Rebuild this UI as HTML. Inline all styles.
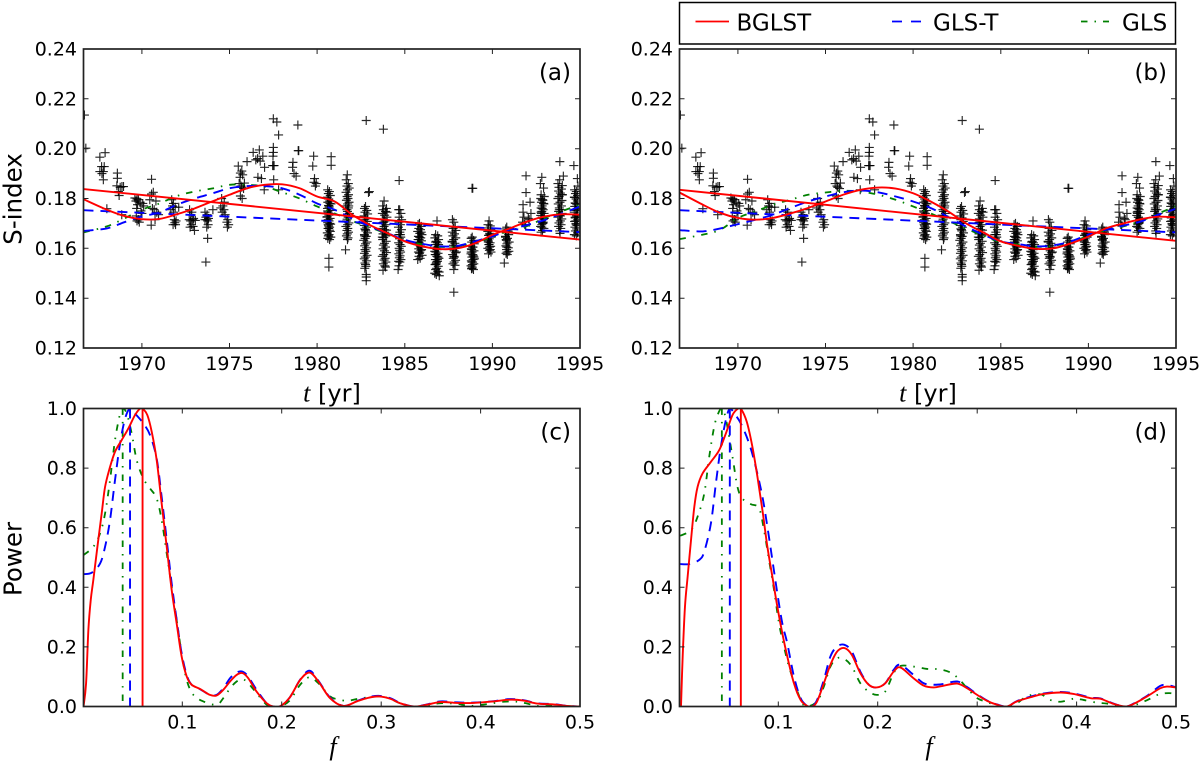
<!DOCTYPE html>
<html lang="en">
<head>
<meta charset="utf-8">
<title>BGLST, GLS-T and GLS comparison</title>
<style>
html,body{margin:0;padding:0;background:#fff;}
svg{display:block;font-family:"DejaVu Sans","Liberation Sans",sans-serif;}
</style>
</head>
<body>
<svg id="figure" xmlns="http://www.w3.org/2000/svg" width="1200" height="765" viewBox="0 0 1200 765">
<rect x="0" y="0" width="1200" height="765" fill="#fff"/>
<defs>
<clipPath id="clip-a"><rect x="83.5" y="49" width="496.5" height="299"/></clipPath>
<clipPath id="clip-b"><rect x="679.5" y="49" width="496.5" height="299"/></clipPath>
<clipPath id="clip-c"><rect x="83.5" y="408.5" width="496.5" height="298"/></clipPath>
<clipPath id="clip-d"><rect x="679.5" y="408.5" width="496.5" height="298"/></clipPath>
</defs>
<g>
<rect x="679.5" y="2.5" width="496" height="41.5" fill="#fff" stroke="#000" stroke-width="1.5"/>
<line x1="695.5" y1="21.5" x2="729" y2="21.5" stroke="#ff0000" stroke-width="1.8"/>
<text x="736.5" y="30.5" font-size="23">BGLST</text>
<line x1="892" y1="21.5" x2="922" y2="21.5" stroke="#0000ff" stroke-width="1.8" stroke-dasharray="10 9"/>
<text x="933" y="30.5" font-size="23">GLS-T</text>
<line x1="1081" y1="21.5" x2="1109" y2="21.5" stroke="#008000" stroke-width="1.8" stroke-dasharray="6.5 7 1.5 7"/>
<text x="1122" y="30.5" font-size="23">GLS</text>
</g>
<text font-size="24.5" text-anchor="middle" transform="translate(21.5,199) rotate(-90)">S-index</text>
<text font-size="24.5" text-anchor="middle" transform="translate(21.5,559) rotate(-90)">Power</text>
<text x="332" y="401.5" font-size="24" text-anchor="middle"><tspan font-family="'Liberation Serif',serif" font-style="italic" font-size="26">t</tspan> [yr]</text>
<text x="928" y="401.5" font-size="24" text-anchor="middle"><tspan font-family="'Liberation Serif',serif" font-style="italic" font-size="26">t</tspan> [yr]</text>
<text x="333" y="755" font-size="26" text-anchor="middle" font-family="'Liberation Serif',serif" font-style="italic">f</text>
<text x="929" y="755" font-size="26" text-anchor="middle" font-family="'Liberation Serif',serif" font-style="italic">f</text>
</svg>
<script>
// ---- Tick labels ----
const yearTicks = [1970, 1975, 1980, 1985, 1990, 1995];
const sIndexTicks = [0.12, 0.14, 0.16, 0.18, 0.20, 0.22, 0.24];
const freqTicks = [0.1, 0.2, 0.3, 0.4, 0.5];
const powerTicks = [0.0, 0.2, 0.4, 0.6, 0.8, 1.0];

// ---- Observations (shared by panels a and b) ----
const obsYears = [
1966.72,1966.8,
1967.6,1967.9,1967.7,1967.85,1967.6,1967.8,1967.72,1967.8,1968.0,
1968.6,1968.6,1968.57,1968.86,1968.76,1968.95,1968.66,1968.7,1968.85,
1969.6,1969.72,1969.8,1969.66,1969.9,1970.05,1969.75,1970.1,1969.7,1969.95,1970.0,1969.68,1969.8,1969.72,1969.85,
1970.55,1970.65,1970.55,1970.45,1970.6,1970.7,1970.8,1970.95,1970.75,1970.53,1970.85,
1971.7,1971.8,1971.75,1971.9,1971.65,1972.1,1971.8,1971.85,1971.95,1971.88,1971.92,1971.78,
1972.72,1972.85,1972.8,1972.95,1972.7,1972.9,1972.78,1973.05,1972.82,1972.92,1972.75,1973.0,
1973.6,1973.72,1973.65,1973.8,1974.05,1973.7,1973.75,1973.6,1973.78,1973.7,1973.75,1973.65,
1974.55,1974.7,1974.62,1974.5,1974.68,1974.58,1974.75,1974.9,1974.85,1974.95,1974.88,
1975.5,1975.7,1975.62,1975.75,1975.6,1975.55,1976.0,1975.85,1975.65,1975.7,1975.8,1975.62,1975.72,
1976.7,1976.35,1976.5,1976.9,1976.6,1976.75,1977.0,1976.62,1976.82,1976.98,
1977.5,1977.7,1977.8,1977.5,1977.5,1977.48,1977.52,1977.46,1977.54,1977.52,1977.8,
1978.9,1978.95,1978.92,1978.62,1978.6,1978.68,1978.8,
1979.8,1979.75,1979.85,1979.95,1979.9,1979.82,
1980.8,1980.8,
1980.6,1980.7,1980.64,1980.75,1980.58,1980.66,1980.72,1980.61,1980.79,1980.65,1980.68,1980.59,1980.76,1980.62,1980.7,1980.67,1980.57,1980.74,1980.63,1980.68,1980.6,1980.77,1980.65,1980.71,1980.62,1980.7,1980.75,1980.58,1980.68,1980.64,1980.78,1980.61,1980.71,1980.6,1980.68,1980.73,1980.63,1980.56,1980.66,1980.72,1980.67,1980.67,
1981.72,1981.66,1981.78,1981.7,1981.83,1981.73,1981.65,1981.79,1981.71,1981.76,1981.67,1981.82,1981.74,1981.63,1981.78,1981.7,1981.73,1981.84,1981.65,1981.77,1981.71,1981.68,1981.81,1981.74,1981.64,1981.75,1981.7,1981.79,1981.72,1981.67,1981.76,1981.73,1981.62,1981.8,1981.75,
1982.76,1982.7,1982.83,1982.73,1982.88,1982.68,1982.79,1982.72,1982.86,1982.75,1982.69,1982.81,1982.72,1982.78,1982.87,1982.7,1982.8,1982.74,1982.66,1982.84,1982.76,1982.71,1982.82,1982.73,1982.78,1982.7,1982.85,1982.75,1982.69,1982.81,1982.73,1982.76,1982.78,1982.72,1982.76,1982.71,1982.8,1982.8,1982.8,1982.8,1982.93,1982.98,
1983.82,1983.74,1983.95,1983.78,1983.9,1983.72,1983.85,1983.98,1983.78,1983.88,1983.75,1983.92,1983.82,1983.72,1983.96,1983.86,1983.76,1983.92,1983.8,1983.74,1983.94,1983.84,1983.78,1983.9,1983.76,1983.84,1983.96,1983.8,1983.72,1983.88,1983.82,1983.92,1983.78,1983.86,1983.76,1983.9,1983.8,1983.85,1983.99,1983.93,1983.78,1983.72,
1984.71,1984.65,1984.78,1984.68,1984.82,1984.67,1984.75,1984.64,1984.81,1984.72,1984.66,1984.77,1984.7,1984.83,1984.65,1984.73,1984.8,1984.68,1984.71,1984.76,1984.66,1984.73,1984.69,1984.78,1984.65,1984.72,1984.67,1984.62,1984.75,1984.68,
1985.84,1985.76,1985.94,1985.8,1985.9,1985.74,1985.86,1985.98,1985.78,1985.91,1985.76,1985.95,1985.82,1985.74,1985.88,1985.96,1985.8,1985.92,1985.78,1985.84,1985.99,1985.81,1985.88,1985.74,1985.94,1985.84,1985.78,1985.9,1985.86,1985.82,1985.76,1985.96,
1986.84,1986.76,1986.88,1986.72,1986.93,1986.8,1986.86,1986.74,1986.92,1986.78,1986.85,1986.71,1986.9,1986.77,1986.83,1986.95,1986.75,1986.87,1986.79,1986.73,1986.91,1986.82,1986.76,1986.88,1986.71,1986.8,1986.93,1986.84,1986.74,1986.86,1986.78,1986.89,1986.81,1986.76,1986.85,1986.96,1986.78,1986.97,
1987.8,1987.72,1987.88,1987.76,1987.92,1987.71,1987.84,1987.75,1987.91,1987.79,1987.7,1987.86,1987.78,1987.94,1987.74,1987.82,1987.89,1987.73,1987.8,1987.77,1987.9,1987.82,1987.75,1987.87,1987.71,1987.79,1987.95,1987.83,1987.8,1987.8,
1988.85,1988.79,1988.93,1988.82,1988.97,1988.77,1988.89,1988.8,1988.95,1988.84,1988.78,1988.91,1988.83,1988.98,1988.8,1988.87,1988.94,1988.78,1988.85,1988.81,1988.92,1988.88,1988.79,1988.95,1988.83,1988.86,1988.9,1988.82,1988.84,1988.88,1988.88,1988.84,
1989.81,1989.75,1989.88,1989.77,1989.91,1989.74,1989.85,1989.78,1989.93,1989.82,1989.76,1989.87,1989.8,1989.9,1989.74,1989.83,1989.92,1989.78,1989.86,1989.72,1989.81,1989.88,1989.77,1989.84,
1990.82,1990.76,1990.89,1990.79,1990.93,1990.75,1990.86,1990.8,1990.96,1990.83,1990.77,1990.91,1990.81,1990.94,1990.78,1990.85,1990.75,1990.88,1990.82,1990.92,1990.79,1990.84,1990.68,
1991.92,1991.92,1992.15,1991.75,1991.75,1992.2,1991.8,1991.9,1992.1,1991.72,1992.05,1991.85,
1992.82,1992.74,1992.92,1992.78,1992.96,1992.76,1992.88,1992.8,1992.94,1992.84,1992.78,1992.9,1992.82,1992.95,1992.76,1992.86,1992.92,1992.8,1992.88,1992.82,1992.75,1992.94,1992.86,1992.78,1992.92,1992.84,1992.8,1992.96,1992.88,1992.78,1992.84,1992.9,1992.82,1992.85,
1993.85,1994.05,1993.84,1993.74,1993.99,1993.8,1993.94,1993.78,1993.88,1994.0,1993.81,1993.74,1993.97,1993.86,1993.76,1993.94,1993.82,1993.91,1993.78,1993.98,1993.84,1993.74,1993.96,1993.88,1993.8,1993.92,1993.78,1993.9,1993.84,1993.86,1993.96,1993.82,1993.88,
1994.65,1994.85,1994.88,1994.69,1994.79,1994.74,1994.86,1994.68,1994.78,1994.85,1994.72,1994.82,1994.7,1994.88,1994.76,1994.67,1994.84,1994.8,1994.73,1994.87,1994.69,1994.77,1994.83,1994.71,1994.81,1994.74,1994.86,1994.68,1994.79,1994.75,1994.84,1994.72,1994.78,1994.7,1994.82,1994.76
];
const obsSIndex = [
.2135,.2002,
.1966,.1984,.1928,.1928,.1908,.1908,.1900,.1875,.1759,
.1902,.1881,.1851,.1848,.1845,.1848,.1828,.1812,.1735,
.1802,.1798,.1795,.179,.1785,.178,.1775,.177,.176,.175,.174,.173,.1715,.171,.1705,
.1877,.1825,.1818,.1795,.176,.1755,.179,.1735,.1715,.1693,.1745,
.1795,.178,.177,.1765,.1755,.1765,.1745,.1715,.171,.1703,.1695,.1695,
.1755,.1745,.1735,.172,.1715,.1715,.171,.1712,.1695,.1688,.1685,.1672,
.1745,.1735,.1725,.172,.1755,.1715,.171,.1715,.1695,.1685,.1640,.1545,
.18,.1785,.177,.1762,.1755,.1745,.1735,.1715,.1705,.1695,.1685,
.193,.191,.1902,.1895,.1885,.186,.1948,.1862,.185,.1845,.184,.181,.18,
.1995,.1985,.1955,.197,.196,.195,.1925,.1885,.188,.1835,
.212,.2107,.2055,.2005,.1985,.197,.1932,.1932,.1932,.1875,.1835,
.2095,.1992,.1992,.1945,.1925,.19,.189,
.197,.193,.188,.186,.185,.1865,
.1968,.1933,
.1835,.1828,.182,.1812,.1805,.1798,.179,.1785,.1778,.1772,.1765,.176,.1752,.1745,.174,.1733,.1727,.172,.1715,.171,.1703,.1697,.169,.1685,.168,.1673,.1668,.1662,.1655,.165,.1645,.164,.1635,.175,.177,.178,.1695,.1725,.168,.17,.156,.1525,
.1895,.1875,.186,.185,.1842,.1835,.1825,.1815,.1808,.18,.1793,.1785,.1778,.177,.1762,.1755,.1748,.174,.1733,.1725,.1717,.171,.1702,.1695,.1688,.168,.1672,.1665,.1658,.165,.1642,.1635,.1594,.177,.173,
.1768,.176,.1752,.1745,.1738,.173,.1722,.1715,.1708,.17,.1692,.1685,.1678,.167,.1662,.1655,.1648,.164,.1632,.1625,.1618,.161,.1602,.1595,.1588,.158,.1572,.1565,.1558,.155,.1541,.1535,.1528,.152,.1675,.165,.1495,.1485,.147,.2113,.1824,.1828,
.179,.177,.176,.1755,.1748,.174,.1733,.1725,.1718,.171,.1703,.1695,.1688,.168,.1673,.1665,.1658,.165,.1643,.1635,.1628,.162,.1613,.1605,.1598,.159,.1583,.1575,.1568,.156,.1553,.1545,.1538,.153,.1512,.1525,.1705,.1675,.1745,.1655,.2078,.1645,
.1755,.1755,.174,.1725,.1715,.1705,.1695,.1685,.1675,.1665,.1655,.1645,.1638,.163,.1622,.1615,.1608,.16,.1592,.1585,.1578,.157,.1562,.1555,.1548,.1545,.153,.1515,.1655,.1872,
.17,.1695,.1688,.168,.1675,.1668,.166,.1655,.1648,.1642,.1635,.163,.1622,.1618,.161,.1605,.1598,.1592,.1585,.158,.1572,.1568,.156,.1555,.1665,.1645,.1625,.1605,.1585,.1635,.1615,.1595,
.171,.1655,.165,.1642,.1635,.1628,.1622,.1615,.1608,.16,.1595,.1588,.158,.1575,.1568,.156,.1555,.1548,.154,.1535,.1528,.152,.1515,.1508,.150,.1495,.1615,.1595,.1575,.1555,.1535,.1565,.1545,.1625,.1605,.1505,.1585,.149,
.1705,.1715,.1685,.168,.1672,.1665,.1658,.165,.1642,.1635,.1628,.162,.1612,.1605,.1598,.159,.1582,.1575,.1568,.156,.1552,.1545,.1538,.1532,.1625,.1605,.1585,.1565,.1424,.1515,
.1645,.164,.1632,.1625,.1618,.161,.1605,.1598,.159,.1585,.1578,.157,.1565,.1558,.155,.1545,.1538,.153,.1525,.1518,.1515,.1605,.1585,.1565,.1545,.1535,.1555,.1595,.1841,.1841,.1575,.152,
.171,.1695,.169,.1682,.1675,.1668,.166,.1652,.1645,.1638,.163,.1622,.1615,.1608,.16,.1592,.1585,.1578,.1655,.1635,.1615,.1595,.1625,.1605,
.1685,.1678,.167,.1662,.1655,.1648,.164,.1632,.1625,.1618,.161,.1602,.1595,.1588,.158,.1575,.1645,.1625,.1605,.1665,.1635,.1585,.1541,
.1891,.1824,.1785,.1775,.1745,.174,.1725,.169,.1715,.1705,.172,.1695,
.1885,.186,.1842,.1815,.1808,.18,.1793,.1785,.1778,.177,.1762,.1755,.1748,.174,.1732,.1725,.1718,.171,.1702,.1695,.1688,.168,.1672,.1665,.178,.176,.174,.172,.17,.1745,.1725,.1705,.1685,.1795,
.1948,.189,.1875,.186,.1852,.1845,.1838,.183,.1822,.1815,.1808,.18,.1792,.1785,.1778,.177,.1762,.1755,.1748,.174,.1732,.1725,.1718,.171,.1702,.1695,.1688,.168,.167,.166,.1815,.1755,.173,
.1932,.188,.185,.1835,.1828,.182,.1812,.1805,.1798,.179,.1782,.1775,.1768,.176,.1752,.1745,.1738,.173,.1722,.1715,.1708,.17,.1692,.1685,.1678,.167,.1662,.1655,.165,.178,.1755,.1725,.1695,.1805,.1735,.171
];

// ---- Panel (a): fitted curves ----
const fitYearsA = [1966.67,1968,1969,1970,1971,1972,1973,1974,1975,1976,1977,1978,1979,1980,1981,1982,1983,1984,1985,1986,1987,1988,1989,1990,1991,1992,1993,1994,1995];
const bglstFitA = [.1797,.1755,.173,.1717,.1718,.1737,.176,.1788,.1815,.1841,.1855,.1857,.1841,.1808,.1788,.1735,.1694,.1661,.1628,.1608,.1597,.16,.162,.1654,.168,.1708,.1728,.1737,.1735];
const glsTFitA = [.167,.168,.1705,.1728,.1744,.1775,.18,.182,.1841,.185,.185,.1841,.1815,.178,.1755,.172,.1688,.1661,.1634,.1618,.1608,.161,.1628,.1648,.1675,.1694,.1714,.1741,.1768];
const glsFitA = [.1664,.1688,.172,.1755,.178,.181,.1828,.184,.1855,.1855,.1848,.1825,.18,.1768,.174,.171,.1685,.1658,.1632,.1616,.1606,.1608,.1625,.1645,.1672,.169,.1722,.175,.1775];
const trendYears = [1966.67,1995];
const bglstTrendA = [.1838,.1635];
const glsTTrendA = [.1753,.1665];

// ---- Panel (b): fitted curves ----
const fitYearsB = [1966.67,1968,1969,1970,1971,1972,1973,1974,1975,1976,1977,1978,1979,1980,1981,1982,1983,1984,1985,1986,1987,1988,1989,1990,1991,1992,1993,1994,1995];
const bglstFitB = [.1824,.1775,.1742,.1722,.1715,.1722,.174,.1762,.1788,.1815,.1835,.1844,.184,.1821,.1788,.1748,.1701,.1664,.1628,.161,.1598,.16,.162,.1647,.168,.17,.1717,.1727,.1724];
const glsTFitB = [.1673,.1668,.168,.1697,.1715,.1735,.1762,.1788,.1808,.1825,.1832,.1825,.1808,.1788,.1762,.1726,.1688,.1655,.1628,.1617,.1608,.1612,.1628,.1655,.1675,.1691,.1708,.1735,.1759];
const glsFitB = [.1637,.1655,.1675,.1722,.1748,.1775,.1795,.1815,.1824,.1831,.1828,.1815,.1795,.1768,.174,.171,.168,.165,.1625,.1615,.1606,.161,.1625,.165,.1672,.1688,.171,.174,.177];
const bglstTrendB = [.1835,.163];
const glsTTrendB = [.1753,.1664];

// ---- Panel (c): spectra ----
const bglstFreqC = [.0006,.0032,.0055,.0079,.0105,.0146,.0189,.0223,.0273,.0323,.039,.0457,.0524,.0575,.06,.0648,.0692,.0742,.0792,.0843,.0893,.0943,.0993,.1044,.1094,.1178,.1278,.1345,.1412,.148,.1546,.1606,.1663,.1747,.1848,.1915,.198,.208,.2185,.2279,.2369,.2486,.262,.2754,.2856,.2973,.3091,.319,.3326,.346,.3594,.3762,.393,.4131,.43,.4433,.4567,.4735,.487,.5];
const bglstPowerC = [0,.078,.257,.358,.425,.536,.648,.737,.804,.855,.894,.933,.978,1,1,.978,.922,.827,.682,.536,.391,.279,.168,.101,.073,.059,.039,.037,.056,.084,.106,.112,.095,.05,.011,0,0,.03,.089,.114,.084,.028,.002,.017,.028,.034,.026,.011,0,.006,.015,.012,.012,.017,.023,.02,.01,.007,.002,0];
const glsTFreqC = [.0006,.0089,.0173,.0223,.0273,.0323,.0374,.0424,.0474,.0524,.0608,.0675,.0742,.0792,.0843,.0893,.0943,.0993,.1044,.1094,.1178,.1278,.1345,.1412,.148,.1546,.1606,.1663,.1747,.1848,.1915,.198,.208,.2185,.2279,.2369,.2486,.262,.2754,.2856,.2973,.3091,.319,.3326,.346,.3594,.3762,.393,.4131,.43,.4433,.4567,.4735,.487,.5];
const glsTPowerC = [.444,.449,.48,.536,.626,.76,.883,.966,1,.983,.95,.911,.832,.704,.559,.413,.291,.179,.106,.073,.058,.039,.039,.061,.095,.114,.117,.1,.056,.011,0,0,.03,.09,.12,.086,.03,.002,.018,.03,.036,.028,.012,0,.007,.017,.014,.013,.018,.025,.021,.011,.008,.002,0];
const glsFreqC = [.0006,.0105,.0173,.0223,.0273,.0323,.0374,.04,.0441,.0491,.0541,.0608,.0675,.0742,.0792,.0843,.0893,.0943,.0993,.1044,.1111,.1211,.1345,.1412,.148,.1546,.1606,.1663,.1747,.1848,.1915,.198,.208,.2185,.2279,.2369,.2486,.2554,.2655,.2754,.2872,.299,.3091,.319,.3326,.346,.3594,.3762,.3896,.4064,.4232,.4366,.4467,.4567,.4735,.5];
const glsPowerC = [.508,.536,.581,.648,.76,.894,.983,1,.983,.916,.827,.765,.732,.698,.626,.514,.402,.29,.179,.089,.039,.017,.006,.028,.061,.084,.092,.078,.045,.006,0,0,.02,.073,.098,.078,.034,.025,.019,.025,.031,.034,.026,.011,0,.003,.011,.009,.002,.008,.016,.016,.01,.002,.002,0];
const bestFreqC = [.06,.0474,.04];

// ---- Panel (d): spectra ----
const bglstFreqD = [.0021,.0038,.0061,.0088,.0122,.0155,.0188,.0238,.0322,.0405,.0472,.0539,.0596,.0623,.0683,.0739,.079,.084,.089,.094,.099,.104,.109,.1157,.1224,.129,.134,.139,.1458,.1524,.1591,.1665,.174,.1825,.191,.199,.2075,.216,.2228,.236,.2463,.2564,.2664,.28,.29,.3,.31,.32,.33,.34,.3537,.367,.384,.397,.414,.424,.437,.449,.4575,.471,.484,.491,.4995];
const bglstPowerD = [0,.168,.335,.436,.559,.67,.737,.782,.821,.86,.916,.978,1,1,.955,.872,.771,.659,.536,.436,.335,.246,.168,.078,.022,.002,0,.017,.078,.14,.184,.196,.173,.112,.073,.064,.078,.117,.131,.095,.07,.064,.07,.077,.061,.039,.019,.006,0,.017,.031,.042,.047,.042,.028,.026,.009,0,.009,.034,.061,.067,.064];
const glsTFreqD = [.0013,.0105,.0205,.0255,.0322,.0372,.0422,.0472,.0512,.0556,.0623,.0706,.0773,.084,.089,.094,.099,.104,.109,.1157,.1224,.129,.134,.139,.1458,.1524,.1591,.1665,.174,.1825,.191,.199,.2075,.216,.2228,.236,.2463,.2564,.2664,.28,.29,.3,.31,.32,.33,.34,.3537,.367,.384,.397,.414,.424,.437,.449,.4575,.471,.484,.491,.4995];
const glsTPowerD = [.478,.478,.492,.52,.615,.749,.872,.961,1,.983,.95,.883,.804,.704,.603,.492,.38,.279,.212,.101,.028,.002,0,.022,.089,.168,.201,.207,.184,.117,.073,.064,.078,.123,.14,.106,.078,.073,.076,.084,.065,.041,.02,.007,0,.018,.033,.044,.049,.044,.03,.027,.01,0,.01,.036,.069,.072,.065];
const glsFreqD = [.0013,.0122,.0188,.0255,.0305,.0355,.0395,.0432,.0472,.0539,.0589,.0639,.0723,.0806,.0856,.0906,.0957,.1007,.1057,.1107,.1174,.1241,.129,.139,.1458,.1524,.1591,.1665,.174,.1825,.191,.199,.2075,.216,.2228,.236,.2497,.2614,.2731,.2814,.29,.3,.31,.32,.33,.34,.35,.3635,.3735,.384,.397,.407,.42,.43,.44,.45,.4597,.4714,.483,.493,.4995];
const glsPowerD = [.573,.592,.637,.715,.838,.939,.983,1,.966,.838,.737,.698,.679,.665,.592,.492,.391,.279,.201,.134,.067,.011,0,.017,.067,.134,.162,.159,.134,.078,.05,.039,.05,.112,.136,.134,.126,.125,.114,.093,.061,.028,.015,.003,0,.011,.034,.041,.022,.016,.026,.022,.013,.01,.002,0,.006,.022,.041,.045,.042];
const bestFreqD = [.0623,.0512,.0432];

// ---- Drawing ----
const svg = document.getElementById('figure');
const NS = 'http://www.w3.org/2000/svg';
const PANEL_W = 496.5;
const timeTop = 49, timeBottom = 348, specTop = 408.5, specBottom = 706.5;
const leftA = 83.5, leftB = 679.5;

function axisYear(left) { return v => left + (v - 1966.667) * (PANEL_W / (1995 - 1966.667)); }
function axisFreq(left) { return v => left + (v - 0.0006) * (PANEL_W / (0.5 - 0.0006)); }
function axisS(v) { return timeBottom + (v - 0.12) * ((timeTop - timeBottom) / 0.12); }
function axisPower(v) { return specBottom + v * (specTop - specBottom); }

function smoothPath(px, py) {
  let d = 'M' + px[0].toFixed(2) + ' ' + py[0].toFixed(2);
  for (let i = 0; i < px.length - 1; i++) {
    const i0 = Math.max(i - 1, 0), i3 = Math.min(i + 2, px.length - 1);
    const c1x = px[i] + (px[i + 1] - px[i0]) / 6, c1y = py[i] + (py[i + 1] - py[i0]) / 6;
    const c2x = px[i + 1] - (px[i3] - px[i]) / 6, c2y = py[i + 1] - (py[i3] - py[i]) / 6;
    d += 'C' + c1x.toFixed(2) + ' ' + c1y.toFixed(2) + ' ' + c2x.toFixed(2) + ' ' + c2y.toFixed(2) + ' ' + px[i + 1].toFixed(2) + ' ' + py[i + 1].toFixed(2);
  }
  return d;
}

const lineStyles = {
  bglst: { color: '#ff0000', dash: '', width: 1.9 },
  glst: { color: '#0000ff', dash: '10 7', width: 1.9 },
  gls: { color: '#008000', dash: '6.5 7 1.5 7', width: 1.8 }
};

function addCurve(parent, name, xs, ys, sx, sy, style) {
  const p = document.createElementNS(NS, 'path');
  
  
  p.setAttribute('d', smoothPath(xs.map(sx), ys.map(sy)));
  p.setAttribute('fill', 'none');
  p.setAttribute('stroke', style.color);
  p.setAttribute('stroke-width', style.width);
  if (style.dash) p.setAttribute('stroke-dasharray', style.dash);
  parent.appendChild(p);
}

function addFrame(parent, left, top, bottom, xTicks, yTicks, sx, sy, xFmt, yFmt, letter) {
  const g = document.createElementNS(NS, 'g');
  
  
  let d = '';
  xTicks.forEach(v => {
    const x = sx(v).toFixed(1);
    d += 'M' + x + ' ' + bottom + 'v-5M' + x + ' ' + top + 'v5';
    const t = document.createElementNS(NS, 'text');
    
    
    t.setAttribute('x', x);
    t.setAttribute('y', bottom + 22);
    t.setAttribute('font-size', '19');
    t.setAttribute('text-anchor', 'middle');
    t.textContent = xFmt(v);
    g.appendChild(t);
  });
  yTicks.forEach(v => {
    const y = sy(v).toFixed(1);
    d += 'M' + left + ' ' + y + 'h5M' + (left + PANEL_W) + ' ' + y + 'h-5';
    const t = document.createElementNS(NS, 'text');
    
    
    t.setAttribute('x', left - 6.5);
    t.setAttribute('y', Number(y) + 6.5);
    t.setAttribute('font-size', '19');
    t.setAttribute('text-anchor', 'end');
    t.textContent = yFmt(v);
    g.appendChild(t);
  });
  const ticks = document.createElementNS(NS, 'path');
  
  
  ticks.setAttribute('d', d);
  ticks.setAttribute('stroke', '#222');
  ticks.setAttribute('stroke-width', '1');
  ticks.setAttribute('fill', 'none');
  g.appendChild(ticks);
  const r = document.createElementNS(NS, 'rect');
  
  
  r.setAttribute('x', left);
  r.setAttribute('y', top);
  r.setAttribute('width', PANEL_W);
  r.setAttribute('height', bottom - top);
  r.setAttribute('fill', 'none');
  r.setAttribute('stroke', '#222');
  r.setAttribute('stroke-width', '1.7');
  g.appendChild(r);
  const lab = document.createElementNS(NS, 'text');
  
  
  lab.setAttribute('x', left + PANEL_W - 9);
  lab.setAttribute('y', top + 31);
  lab.setAttribute('font-size', '23');
  lab.setAttribute('text-anchor', 'end');
  lab.textContent = '(' + letter + ')';
  g.appendChild(lab);
  parent.appendChild(g);
}

function drawTimePanel(left, letter, fitYears, redFit, blueFit, greenFit, redTrend, blueTrend) {
  const sx = axisYear(left);
  const g = document.createElementNS(NS, 'g');
  
  
  g.setAttribute('clip-path', 'url(#clip-' + letter + ')');
  const n = Math.min(obsYears.length, obsSIndex.length);
  for (let i = 0; i < n; i++) {
    const x = sx(obsYears[i]), y = axisS(obsSIndex[i]);
    const m = document.createElementNS(NS, 'path');
    
    
    m.setAttribute('d', 'M' + (x - 4.5).toFixed(2) + ' ' + y.toFixed(2) + 'h9M' + x.toFixed(2) + ' ' + (y - 4.5).toFixed(2) + 'v9');
    m.setAttribute('stroke', '#000');
    m.setAttribute('stroke-width', '1.15');
    m.setAttribute('stroke-opacity', '0.85');
    m.setAttribute('fill', 'none');
    g.appendChild(m);
  }
  addCurve(g, 'gls-fit', fitYears, greenFit, sx, axisS, lineStyles.gls);
  addCurve(g, 'gls-t-fit', fitYears, blueFit, sx, axisS, lineStyles.glst);
  addCurve(g, 'gls-t-trend', trendYears, blueTrend, sx, axisS, lineStyles.glst);
  addCurve(g, 'bglst-fit', fitYears, redFit, sx, axisS, lineStyles.bglst);
  addCurve(g, 'bglst-trend', trendYears, redTrend, sx, axisS, lineStyles.bglst);
  svg.appendChild(g);
  addFrame(svg, left, timeTop, timeBottom, yearTicks, sIndexTicks, sx, axisS, v => String(v), v => v.toFixed(2), letter);
}

function drawSpecPanel(left, letter, fr, pr, fb, pb, fg, pg, best) {
  const sx = axisFreq(left);
  const g = document.createElementNS(NS, 'g');
  
  
  g.setAttribute('clip-path', 'url(#clip-' + letter + ')');
  addCurve(g, 'gls-spectrum', fg, pg, sx, axisPower, lineStyles.gls);
  addCurve(g, 'gls-peak-line', [best[2], best[2]], [1, 0], sx, axisPower, lineStyles.gls);
  addCurve(g, 'gls-t-spectrum', fb, pb, sx, axisPower, lineStyles.glst);
  addCurve(g, 'gls-t-peak-line', [best[1], best[1]], [1, 0], sx, axisPower, lineStyles.glst);
  addCurve(g, 'bglst-spectrum', fr, pr, sx, axisPower, lineStyles.bglst);
  addCurve(g, 'bglst-peak-line', [best[0], best[0]], [1, 0], sx, axisPower, lineStyles.bglst);
  svg.appendChild(g);
  addFrame(svg, left, specTop, specBottom, freqTicks, powerTicks, sx, axisPower, v => v.toFixed(1), v => v.toFixed(1), letter);
}

drawTimePanel(leftA, 'a', fitYearsA, bglstFitA, glsTFitA, glsFitA, bglstTrendA, glsTTrendA);
drawTimePanel(leftB, 'b', fitYearsB, bglstFitB, glsTFitB, glsFitB, bglstTrendB, glsTTrendB);
drawSpecPanel(leftA, 'c', bglstFreqC, bglstPowerC, glsTFreqC, glsTPowerC, glsFreqC, glsPowerC, bestFreqC);
drawSpecPanel(leftB, 'd', bglstFreqD, bglstPowerD, glsTFreqD, glsTPowerD, glsFreqD, glsPowerD, bestFreqD);
</script>
</body>
</html>
